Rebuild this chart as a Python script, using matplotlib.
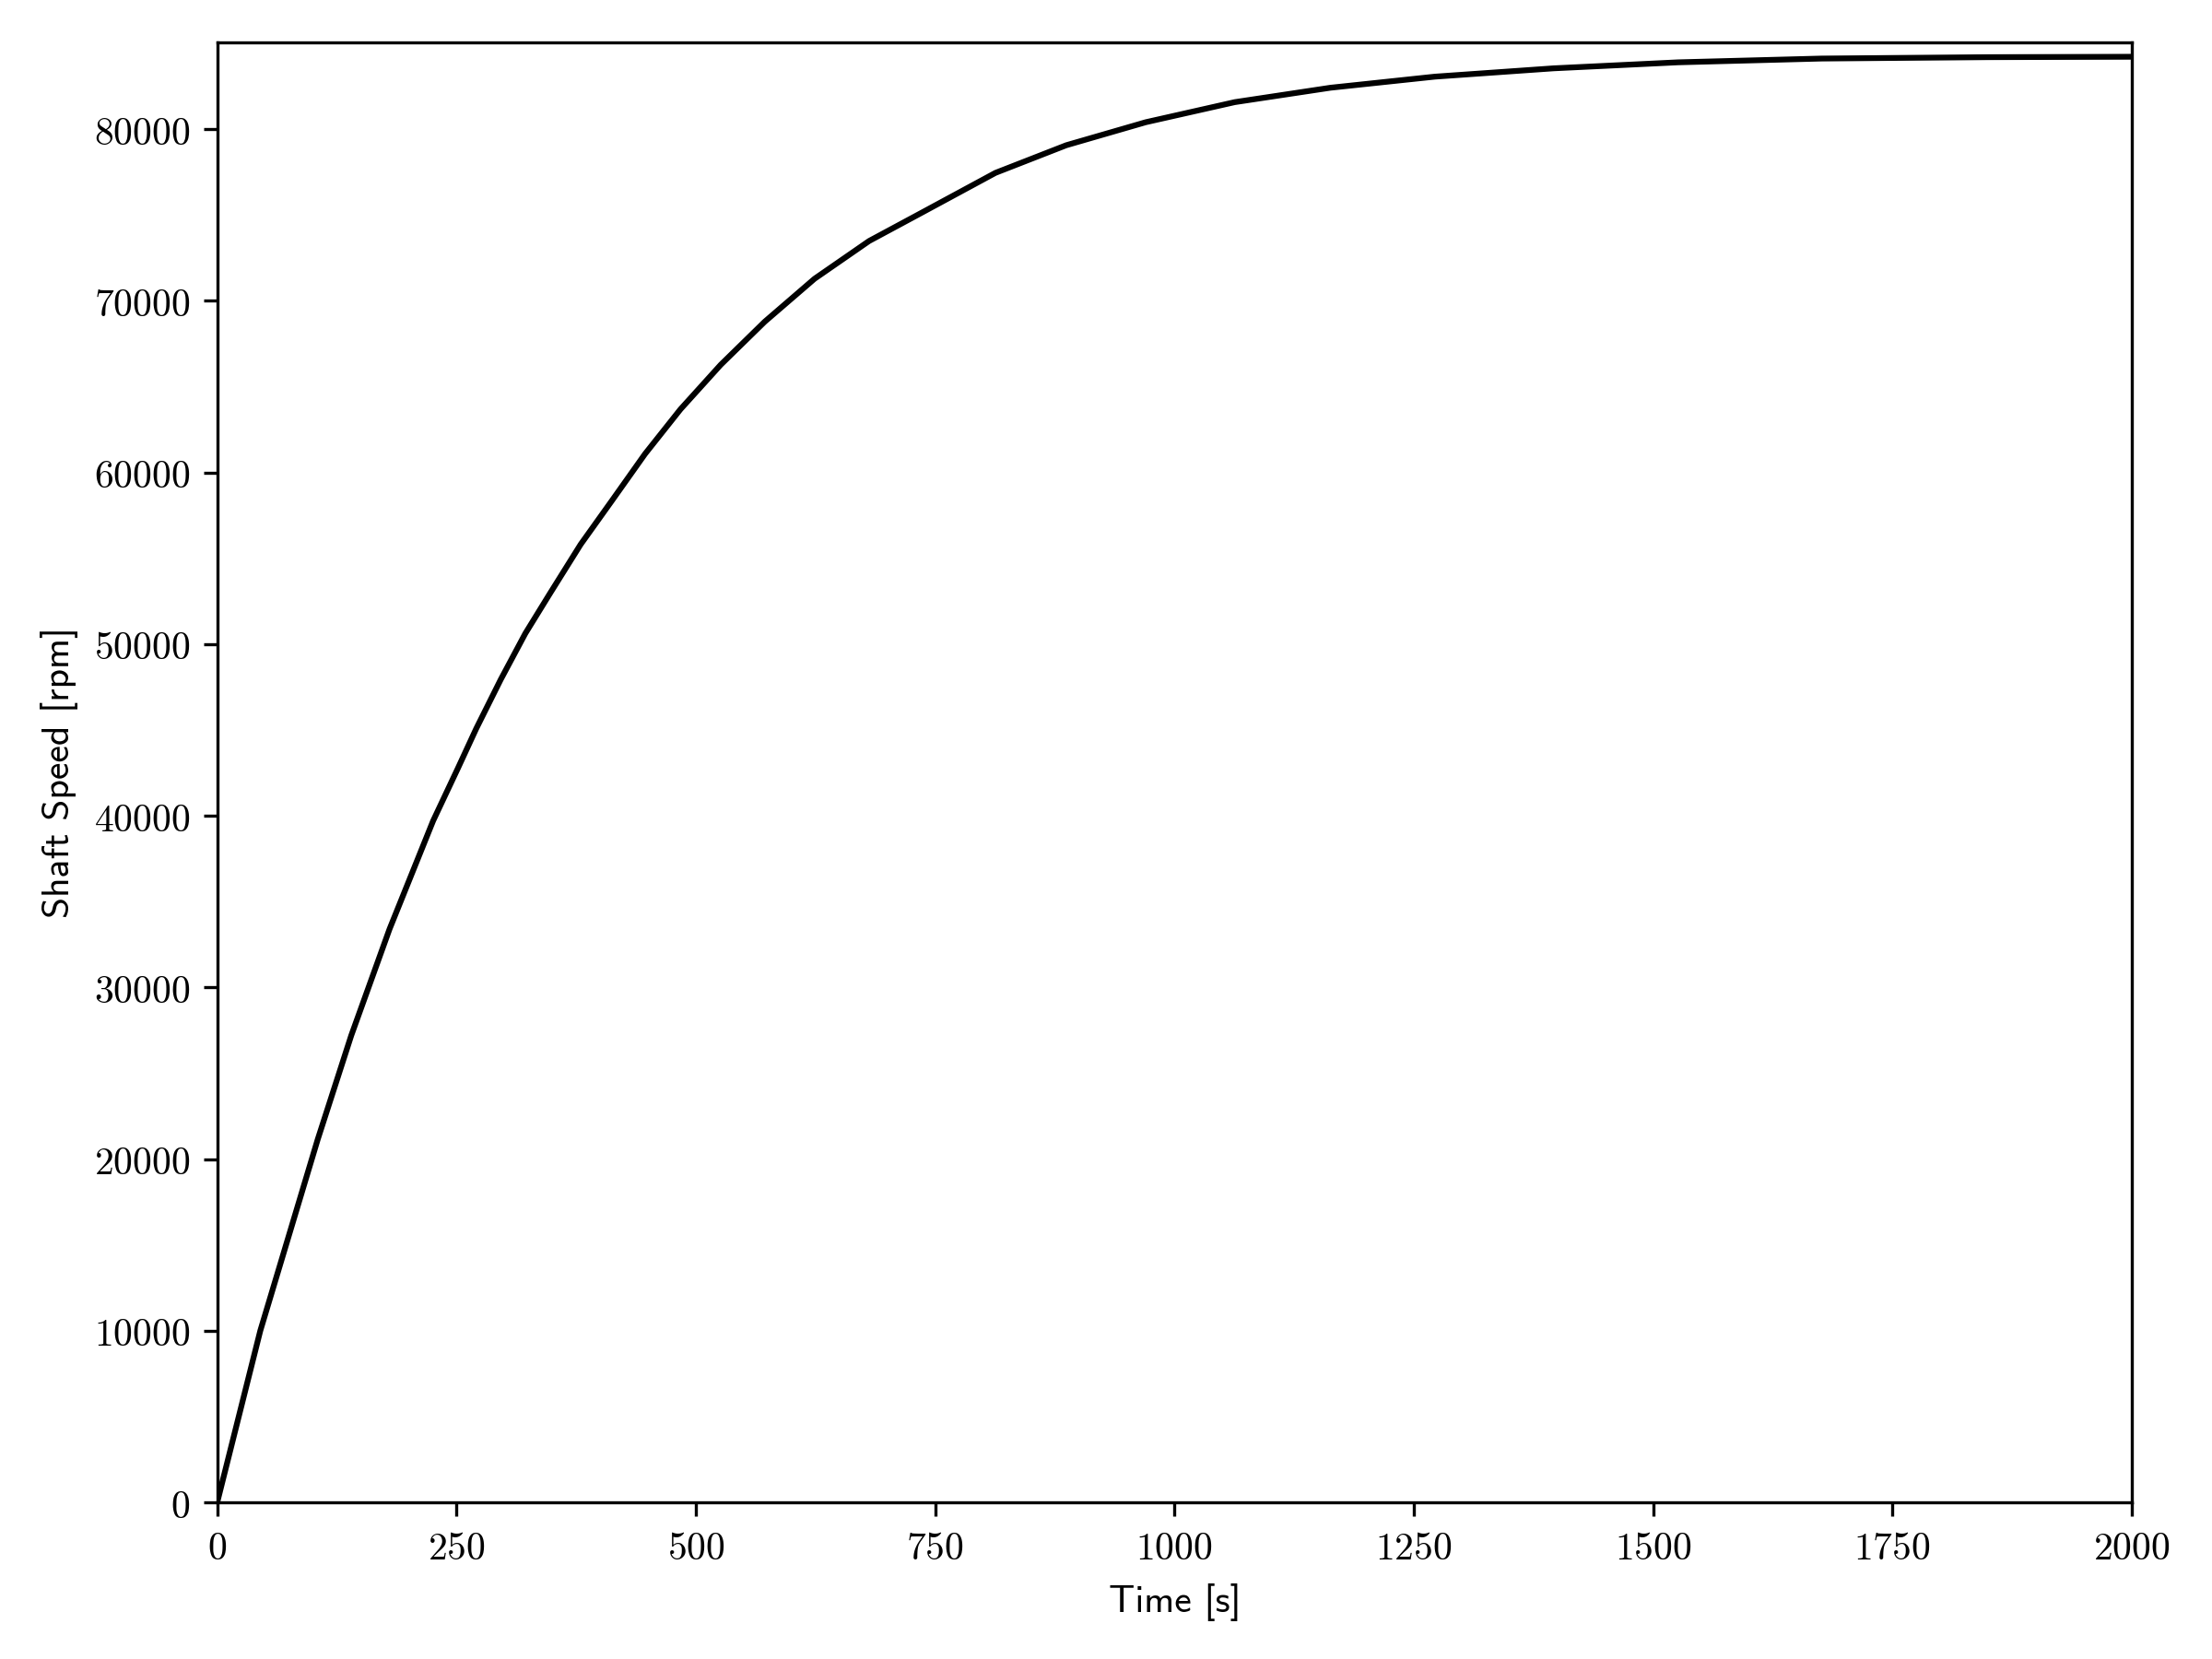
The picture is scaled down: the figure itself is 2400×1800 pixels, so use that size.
import numpy as np
import matplotlib
matplotlib.use("Agg")
import matplotlib.pyplot as plt
from matplotlib.ticker import FuncFormatter

plt.rcParams['mathtext.fontset'] = 'cm'

# shaft spin-up
time = np.array([0, 45, 105, 140, 180, 225.6, 251.3, 270.6, 296.2, 321.9,
                 347.6, 379.7, 411.8, 447, 484, 526, 572, 624, 681, 736, 813,
                 887, 970, 1063, 1163, 1272, 1396, 1526, 1676, 1850, 2000])
speed = np.array([0, 10000, 21150, 27200, 33400, 39716, 42756, 45083, 47943,
                  50628, 52954, 55816, 58321, 61090, 63690, 66280, 68790, 71290,
                  73490, 75140, 77460, 79070, 80410, 81580, 82420, 83065, 83550,
                  83900, 84120, 84200, 84224])

fig = plt.figure(figsize=(8, 6), dpi=300)
ax = fig.add_axes([0.0982, 0.0944, 0.8655, 0.8801])

ax.plot(time, speed, color='k', lw=1.5)

ax.set_xlim(0, 2000)
ax.set_ylim(0, speed.max() * 1.01)
ax.set_xticks(np.arange(0, 2001, 250))
ax.set_yticks(np.arange(0, 80001, 10000))

fmt = FuncFormatter(lambda v, pos: r'$%d$' % v)
ax.xaxis.set_major_formatter(fmt)
ax.yaxis.set_major_formatter(fmt)
ax.tick_params(labelsize=10)

ax.set_xlabel('Time [s]', fontfamily='cmss10', fontsize=10)
ax.set_ylabel('Shaft Speed [rpm]', fontfamily='cmss10', fontsize=10)

fig.savefig('out.png', dpi=300)
